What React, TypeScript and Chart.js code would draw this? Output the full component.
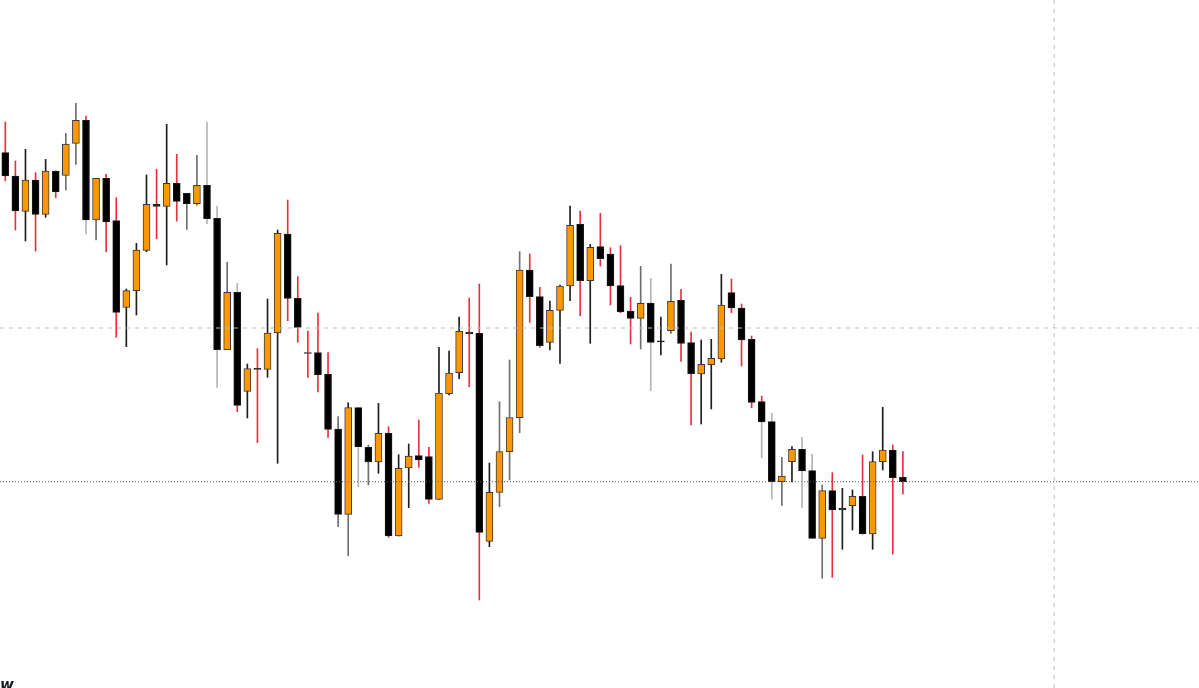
import React, { useEffect, useRef } from "react";
import { Chart, registerables } from "chart.js";

Chart.register(...registerables);

// OHLC series (price units)
const opens = [535.3, 512, 476.7, 508, 473.7, 517, 512.7, 544.7, 567.7, 468, 509.7, 467.3, 380.7, 397.3, 437.7, 483.7, 481.7, 504.7, 494.7, 484.3, 502.7, 469.7, 338.3, 395.7, 296.7, 319.7, 318.7, 355, 454, 389.7, 335.5, 335.3, 313.7, 259, 173.7, 280.3, 240.7, 226, 254.7, 152, 220, 232.3, 231.3, 188.7, 294.3, 315.3, 356, 354.7, 146.7, 195.7, 236.3, 270.3, 418, 391.3, 345.7, 377.7, 402, 463.7, 407.3, 441.3, 434, 402.3, 377, 369.7, 385, 347.2, 357.3, 387.7, 345.3, 314, 323.3, 329, 395.3, 380, 348.7, 286.3, 266.3, 206.3, 226.3, 238.7, 217.3, 149.7, 197.3, 179.7, 182.3, 191.7, 154, 226.3, 238, 210.7];
const highs = [566, 527, 538.7, 515.3, 528.7, 517, 554.7, 584.7, 572, 509.7, 513.7, 490.3, 399, 444.7, 513, 518.7, 563.7, 533.7, 494.7, 532.7, 566, 482, 425.7, 404.7, 324, 339.3, 389, 458, 488, 411.3, 357, 375, 335.3, 271.3, 285.3, 280.3, 243, 284.7, 261.3, 233.3, 244, 268, 240.7, 340.7, 337, 371, 390, 404, 225, 286.3, 328, 436.3, 434, 400.7, 387, 403, 482, 477, 443.7, 474.7, 440.3, 442.3, 390.7, 421.7, 409.7, 371, 424, 398.7, 356, 348, 348.7, 413.7, 409, 384, 352, 292, 274.7, 230.7, 241.3, 250.7, 234, 203, 215.3, 199.7, 198, 233, 236.3, 280.7, 243, 236.3];
const lows = [507.3, 458, 447, 437, 470.7, 490.3, 498, 523.7, 454, 448, 436.3, 350.7, 341.3, 373, 436.3, 449.3, 423, 467, 458.7, 482.7, 464.3, 300.7, 338.3, 276.3, 270, 245.3, 310.7, 224.7, 367.3, 345.7, 310.7, 296, 250.7, 161.3, 132.3, 201.3, 203, 214.7, 150.7, 152, 180.3, 220.7, 184.7, 188.7, 293, 309.3, 301.3, 88, 141.3, 181.3, 208, 255.3, 365.7, 340.7, 338, 324.7, 387.3, 372.3, 344.7, 422, 383, 375.3, 344, 339, 297.3, 333, 354.7, 326.5, 263, 264, 279, 325.7, 375.3, 322, 280.3, 230.3, 189, 182.7, 206, 180.3, 149.7, 109.7, 110.7, 138.7, 158, 154, 138.7, 218, 134, 194];
const closes = [512, 477, 508, 473.7, 517, 496, 544, 567.7, 468, 509.7, 466, 375.7, 397.3, 438, 483.7, 481.7, 504.7, 486.7, 484.3, 502.7, 469.3, 338.3, 395.7, 282.7, 319.3, 318.7, 355, 454.7, 389.7, 360.7, 334.5, 313.3, 258.7, 173.7, 280.3, 241.3, 226, 254.7, 152, 219.7, 232, 228, 188.7, 295, 315, 356.7, 354, 155.7, 195.7, 236.3, 270.5, 418, 391.3, 342.3, 377.7, 402, 462.7, 407.3, 440.7, 429.3, 402, 376, 369.7, 384.7, 345.7, 346.2, 386.7, 344.7, 314.3, 323.7, 329.7, 383, 380, 348, 285.7, 266, 206.3, 212, 238.7, 217, 149.7, 197.3, 178, 178, 191.7, 154, 226.3, 238, 210.3, 206.3];

// wick colour keys: r = red, k = black, g = grey, l = light grey
const upperWickKeys = (
  "rrkrkrggrg" + "rrkkkrkrgg" + "llglkrkkrr" + "rrrgkggkrk" + "krrkkkrrkg" +
  "ggrrkkkrkr" + "rrrglkgrrk" + "kkrrrrlgkl" + "lgrkkrkkrr"
).split("");
const lowerWickKeys = (
  "rrkrkrgglg" + "rrkkkrkrgg" + "llgrkrkkrr" + "rrrgglgkrk" + "krrkkkrrkg" +
  "ggrrkkkrkr" + "rrrglkgrrk" + "kkrrrllgkl" + "lgrkkrkkrr"
).split("");

const crosshairPrice = 360;
const crosshairIndex = 104;

const X_MIN = -0.5255;
const X_MAX = 118.36;
const Y_MIN = 0;
const Y_MAX = 688;

const wickPalette: Record<string, string> = {
  r: "#e8303d",
  k: "#1e1e1e",
  g: "#6e6e6e",
  l: "#b4b4b4",
};

export default function App() {
  const ref = useRef<HTMLCanvasElement | null>(null);

  useEffect(() => {
    if (!ref.current) return;
    const idx = opens.map((_, i) => i);
    const up = idx.map((i) => closes[i] >= opens[i]);
    const bodies = idx.map((i) => {
      let a = opens[i];
      let b = closes[i];
      if (Math.abs(a - b) < 1) {
        const m = (a + b) / 2;
        a = m - 0.6;
        b = m + 0.6;
      }
      return { x: i, y: [Math.min(a, b), Math.max(a, b)] };
    });
    const upperW = idx.map((i) => ({ x: i, y: [Math.max(opens[i], closes[i]), highs[i]] }));
    const lowerW = idx.map((i) => ({ x: i, y: [lows[i], Math.min(opens[i], closes[i])] }));
    const last = closes[closes.length - 1];

    const chart = new Chart(ref.current, {
      type: "bar",
      data: {
        datasets: [
          {
            type: "line",
            data: [
              { x: X_MIN, y: crosshairPrice },
              { x: X_MAX, y: crosshairPrice },
            ],
            borderColor: "#bdbdbd",
            borderWidth: 1,
            borderDash: [4, 5],
            pointRadius: 0,
            order: -2,
          },
          {
            type: "line",
            data: [
              { x: crosshairIndex, y: Y_MIN },
              { x: crosshairIndex, y: Y_MAX },
            ],
            borderColor: "#bdbdbd",
            borderWidth: 1,
            borderDash: [4, 5],
            pointRadius: 0,
            order: -2,
          },
          {
            type: "line",
            data: [
              { x: X_MIN, y: last },
              { x: X_MAX, y: last },
            ],
            borderColor: "#555555",
            borderWidth: 1,
            borderDash: [1, 2],
            pointRadius: 0,
            order: -1,
          },
          {
            type: "bar",
            data: bodies as any,
            backgroundColor: up.map((u) => (u ? "#ff9800" : "#000000")),
            borderColor: up.map((u) => (u ? "#3a3a3a" : "#1a1a1a")),
            borderWidth: 1,
            borderSkipped: false,
            barThickness: 7,
            grouped: false,
            order: 0,
          } as any,
          {
            type: "bar",
            data: upperW as any,
            backgroundColor: upperWickKeys.map((k) => wickPalette[k]),
            borderWidth: 0,
            barThickness: 1,
            grouped: false,
            order: 1,
          } as any,
          {
            type: "bar",
            data: lowerW as any,
            backgroundColor: lowerWickKeys.map((k) => wickPalette[k]),
            borderWidth: 0,
            barThickness: 1,
            grouped: false,
            order: 1,
          } as any,
        ],
      },
      options: {
        animation: false,
        responsive: false,
        devicePixelRatio: 1,
        layout: { padding: 0 },
        plugins: { legend: { display: false }, tooltip: { enabled: false } },
        events: [],
        scales: {
          x: { type: "linear", display: false, min: X_MIN, max: X_MAX, offset: false },
          y: { type: "linear", display: false, min: Y_MIN, max: Y_MAX },
        },
      } as any,
    });
    return () => chart.destroy();
  }, []);

  return (
    <div style={{ position: "fixed", left: 0, top: 0, width: 1199, height: 688, background: "#ffffff", overflow: "hidden" }}>
      <canvas ref={ref} width={1199} height={688} style={{ display: "block" }} />
      <div
        style={{
          position: "absolute",
          left: 0,
          top: 677,
          fontFamily: "'DejaVu Sans', sans-serif",
          fontWeight: 900,
          fontStyle: "italic",
          fontSize: 15,
          color: "#131722",
          lineHeight: "16px",
        }}
      >
        w
      </div>
    </div>
  );
}
